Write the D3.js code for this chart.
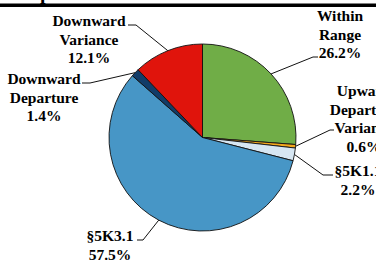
<!DOCTYPE html>
<html>
<head>
    <title>Pie chart</title>
    <script src="https://d3js.org/d3.v7.min.js"></script>
    <style>
        body { margin: 0; background: white; }
        svg text { font-family: "Liberation Serif", "Times New Roman", serif; font-weight: bold; fill: #000; }
    </style>
</head>
<body>
    <svg id="pie" width="376" height="262"></svg>

    <script>
        // slices, clockwise from 12 o'clock
        var categories = ["Within Range", "Upward Departure/Variance", "\u00a75K1.1", "\u00a75K3.1", "Downward Departure", "Downward Variance"];
        var values = [26.2, 0.6, 2.2, 57.5, 1.4, 12.1];
        var labelLines = [
            ["Within", "Range", "26.2%"],
            ["Upward", "Departure", "Variance", "0.6%"],
            ["\u00a75K1.1", "2.2%"],
            ["\u00a75K3.1", "57.5%"],
            ["Downward", "Departure", "1.4%"],
            ["Downward", "Variance", "12.1%"]
        ];
        var colors = ["#70ad47", "#f5a81c", "#d6e6f2", "#4796c6", "#123c68", "#e0140c"];

        // label placement: text centre x, first baseline y, elbow of leader line
        var layout = [
            { x: 340, y: 21, ex: 313, ey: 57, hx: 318 },
            { x: 364, y: 96, ex: 330, ey: 130, hx: 334 },
            { x: 358, y: 176, ex: 323, ey: 175, hx: 333 },
            { x: 110, y: 241, ex: 143, ey: 240, hx: 137 },
            { x: 44, y: 84, ex: 90, ey: 83, hx: 82 },
            { x: 89, y: 26, ex: 136, ey: 25, hx: 128 }
        ];

        var svg = d3.select("#pie");
        var cx = 202.5, cy = 137.5, r = 93.5;
        var lh = 18.5;

        // title remains (cut at top) and rule
        svg.append("text")
            .attr("x", 40).attr("y", -1)
            .style("font-size", "20px")
            .text("p");
        svg.append("rect")
            .attr("x", 0).attr("y", 3.5)
            .attr("width", 376).attr("height", 3.5)
            .attr("fill", "black");

        var pie = d3.pie().sort(null).value(d => d)(values);
        var arc = d3.arc().innerRadius(0).outerRadius(r);
        var edge = d3.arc().innerRadius(r).outerRadius(r);

        var g = svg.append("g").attr("transform", "translate(" + cx + "," + cy + ")");

        g.selectAll("path")
            .data(pie).enter()
            .append("path")
            .attr("d", arc)
            .attr("fill", (d, i) => colors[i])
            .attr("stroke", "#111")
            .attr("stroke-width", 0.9)
            .attr("stroke-linejoin", "round");

        // leader lines
        svg.selectAll("polyline")
            .data(pie).enter()
            .append("polyline")
            .attr("points", (d, i) => {
                var p = edge.centroid(d);
                var L = layout[i];
                return (p[0] + cx) + "," + (p[1] + cy) + " " + L.ex + "," + L.ey + " " + L.hx + "," + L.ey;
            })
            .attr("fill", "none")
            .attr("stroke", "#111")
            .attr("stroke-width", 1);

        // labels
        labelLines.forEach((lines, i) => {
            var t = svg.append("text")
                .attr("text-anchor", "middle")
                .style("font-size", "15.5px");
            t.selectAll("tspan")
                .data(lines).enter()
                .append("tspan")
                .attr("x", layout[i].x)
                .attr("y", (d, j) => layout[i].y + j * lh)
                .text(d => d);
        });
    </script>
</body>
</html>
